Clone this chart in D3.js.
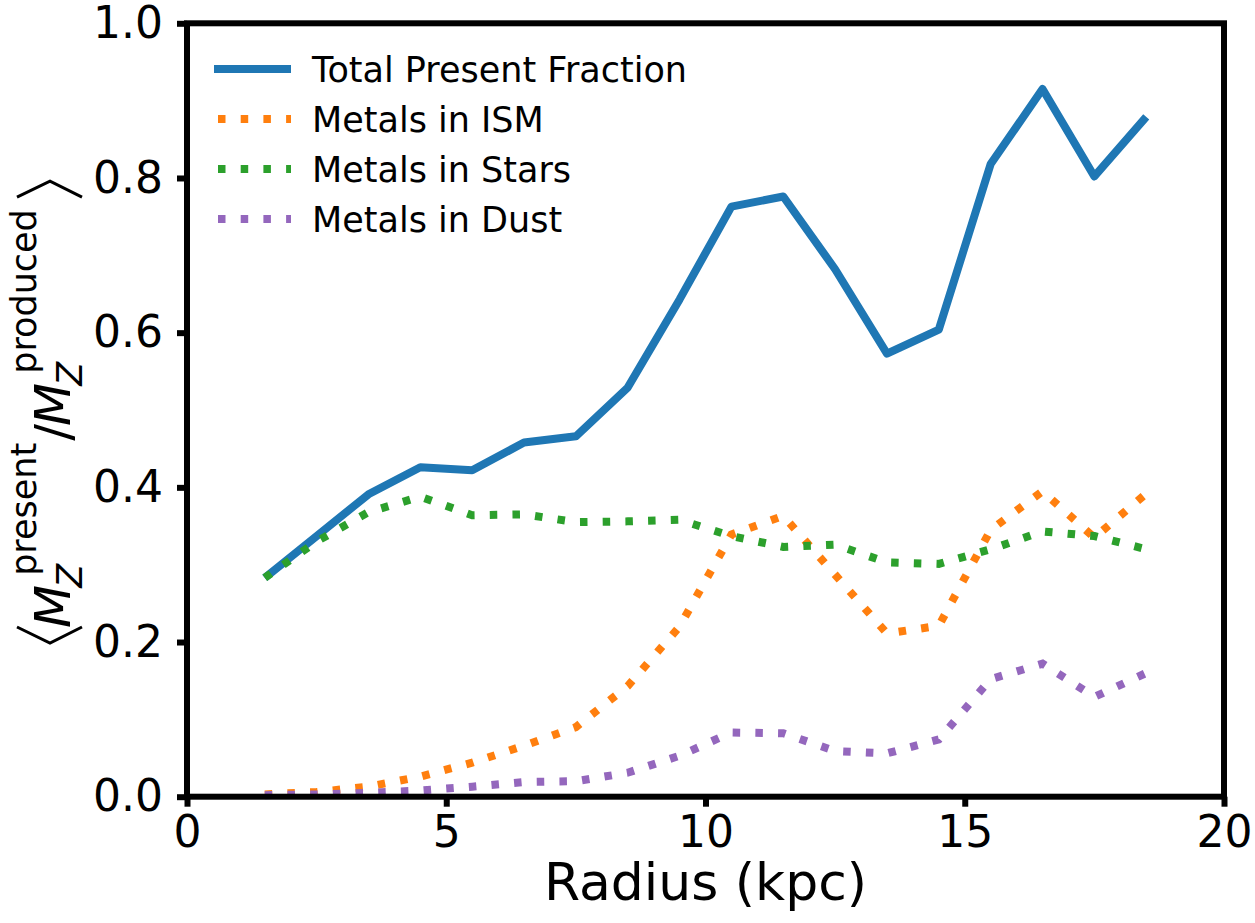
<!DOCTYPE html>
<html>
<head>
<meta charset="utf-8">
<script src="https://cdn.jsdelivr.net/npm/d3@7"></script>
<style>
  body { margin: 0; background: #fff; }
  svg text { font-family: "DejaVu Sans", sans-serif; fill: #000; }
</style>
</head>
<body>
<div id="chart"></div>
<script>
// radius bins (kpc)
var radius = [1.5, 2.5, 3.5, 4.5, 5.5, 6.5, 7.5, 8.5, 9.5, 10.5, 11.5, 12.5, 13.5, 14.5, 15.5, 16.5, 17.5, 18.5];
var totalFrac = [0.283, 0.337, 0.391, 0.426, 0.422, 0.458, 0.466, 0.529, 0.643, 0.763, 0.776, 0.682, 0.573, 0.604, 0.818, 0.915, 0.802, 0.879];
var ismFrac   = [0.003, 0.006, 0.013, 0.026, 0.044, 0.066, 0.090, 0.143, 0.220, 0.339, 0.363, 0.287, 0.211, 0.221, 0.345, 0.395, 0.335, 0.392];
var starFrac  = [0.283, 0.330, 0.368, 0.388, 0.364, 0.365, 0.355, 0.356, 0.358, 0.337, 0.323, 0.326, 0.303, 0.301, 0.320, 0.343, 0.337, 0.320];
var dustFrac  = [0.002, 0.003, 0.005, 0.008, 0.013, 0.019, 0.020, 0.031, 0.053, 0.083, 0.082, 0.059, 0.056, 0.074, 0.152, 0.172, 0.129, 0.160];

var xTicks = [0, 5, 10, 15, 20];
var yTicks = [0.0, 0.2, 0.4, 0.6, 0.8, 1.0];

var seriesNames = ["Total Present Fraction", "Metals in ISM", "Metals in Stars", "Metals in Dust"];
var seriesColors = ["#1f77b4", "#ff7f0e", "#2ca02c", "#9467bd"];

function drawChart() {
  var W = 1255, H = 923;
  var mLeft = 187, mRight = 1224, mTop = 23.3, mBottom = 796.7;
  var dots = "7.5,15.2";

  var series = [totalFrac, ismFrac, starFrac, dustFrac].map(function(v, i) {
    return {name: seriesNames[i], values: v, color: seriesColors[i], dash: i === 0 ? null : dots};
  });

  var svg = d3.select("#chart").append("svg")
    .attr("width", W).attr("height", H);

  var x = d3.scaleLinear().domain([0, 20]).range([mLeft, mRight]);
  var y = d3.scaleLinear().domain([0, 1]).range([mBottom, mTop]);

  var line = d3.line()
    .x(function(d) { return x(d[0]); })
    .y(function(d) { return y(d[1]); });

  series.forEach(function(s) {
    var pts = radius.map(function(r, i) { return [r, s.values[i]]; });
    svg.append("path")
      .datum(pts)
      .attr("d", line)
      .attr("fill", "none")
      .attr("stroke", s.color)
      .attr("stroke-width", 8)
      .attr("stroke-linejoin", s.dash ? "miter" : "round")
      .attr("stroke-dasharray", s.dash);
  });

  // axes
  var xAxis = svg.append("g")
    .attr("transform", "translate(0," + mBottom + ")")
    .call(d3.axisBottom(x).tickValues(xTicks).tickFormat(d3.format("d")).tickSize(10).tickPadding(9));
  var yAxis = svg.append("g")
    .attr("transform", "translate(" + mLeft + ",0)")
    .call(d3.axisLeft(y).tickValues(yTicks).tickFormat(d3.format(".1f")).tickSize(10).tickPadding(14));

  [xAxis, yAxis].forEach(function(a) {
    a.select(".domain").remove();
    a.selectAll(".tick line").attr("stroke", "#000").attr("stroke-width", 6);
    a.selectAll(".tick text").attr("font-size", 44).attr("font-family", "DejaVu Sans");
  });

  // frame
  svg.append("rect")
    .attr("x", mLeft).attr("y", mTop)
    .attr("width", mRight - mLeft).attr("height", mBottom - mTop)
    .attr("fill", "none").attr("stroke", "#000").attr("stroke-width", 6);

  // x label
  svg.append("text")
    .attr("x", (mLeft + mRight) / 2).attr("y", 900)
    .attr("text-anchor", "middle")
    .attr("font-size", 52)
    .text("Radius (kpc)");

  // y label: <M_Z^present / M_Z^produced>, rotated
  var yl = svg.append("g").attr("transform", "translate(70,0) rotate(-90)");
  var bigSize = 50, smallSize = 35;
  var cx = -628;

  function bracket(tipX, dir) {
    yl.append("path")
      .attr("d", "M" + (tipX + dir * 16) + "," + (-53) + "L" + tipX + "," + (-20) + "L" + (tipX + dir * 16) + "," + 12)
      .attr("fill", "none").attr("stroke", "#000").attr("stroke-width", 3);
  }
  bracket(cx - 15, 1);

  function put(txt, size, italic, xpos, base) {
    var t = yl.append("text")
      .attr("x", xpos).attr("y", base)
      .attr("font-size", size)
      .attr("font-style", italic ? "italic" : "normal")
      .text(txt);
    return t.node().getComputedTextLength();
  }
  function mzPart(supText) {
    var wM = put("M", bigSize, true, cx, 0);
    var supX = cx + wM + 9;
    var wSup = put(supText, smallSize, false, supX, -34);
    var wSub = put("Z", smallSize, true, cx + wM - 3, 12);
    cx = Math.max(supX + wSup, cx + wM - 3 + wSub) + 2;
  }
  mzPart("present");
  cx += put("/", bigSize, false, cx, 0) - 2;
  mzPart("produced");
  bracket(cx + 26, -1);

  // legend
  var legRows = [69, 119, 169, 219];
  series.forEach(function(s, i) {
    svg.append("line")
      .attr("x1", 214).attr("x2", 291)
      .attr("y1", legRows[i]).attr("y2", legRows[i])
      .attr("stroke", s.color).attr("stroke-width", 8)
      .attr("stroke-dasharray", s.dash)
      .attr("stroke-dashoffset", s.dash ? -4 : null);
    svg.append("text")
      .attr("x", 312).attr("y", legRows[i] + 12.5)
      .attr("font-size", 35)
      .text(s.name);
  });
}

drawChart();
</script>
</body>
</html>
